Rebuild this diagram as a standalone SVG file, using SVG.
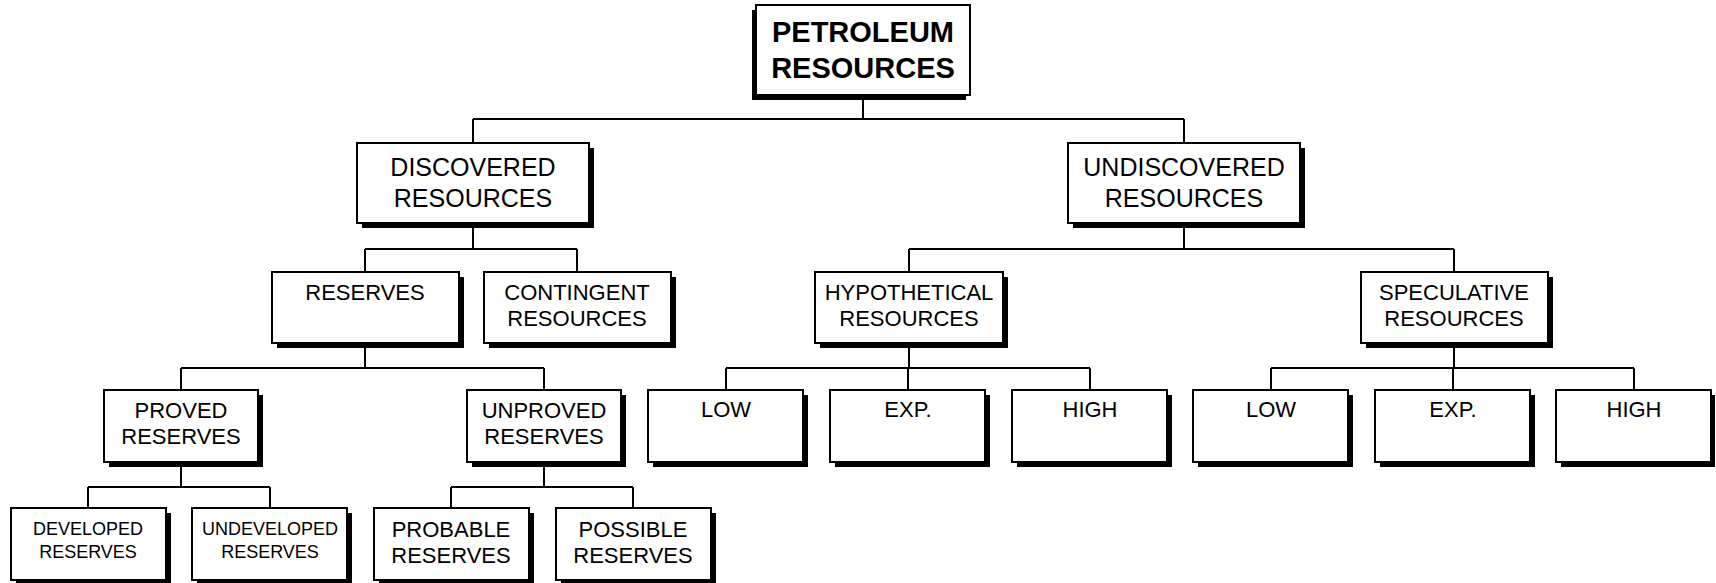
<svg xmlns="http://www.w3.org/2000/svg" width="1716" height="583" viewBox="0 0 1716 583">
<style>
.bg{fill:#fff}
.sh{fill:#000}
.bx{fill:#fff;stroke:#000;stroke-width:2}
.ln{stroke:#000;stroke-width:2;fill:none}
text{font-family:"Liberation Sans",Arial,sans-serif;fill:#000;text-anchor:middle}
.t0{font-size:29px;font-weight:bold}
.t1{font-size:25px}
.t2{font-size:22px}
.t3{font-size:18px}
</style>
<rect class="bg" x="0" y="0" width="1716" height="583"/>
<g id="connectors">
<path class="ln" d="M863 95V119M473 119H1184M473 119V143M1184 119V143"/>
<path class="ln" d="M473 223V249M365 249H577M365 249V272M577 249V272"/>
<path class="ln" d="M1184 223V249M909 249H1454M909 249V272M1454 249V272"/>
<path class="ln" d="M365 343V368M181 368H544M181 368V390M544 368V390"/>
<path class="ln" d="M909 343V368M726 368H1090M726 368V390M908 368V390M1090 368V390"/>
<path class="ln" d="M1454 343V368M1271 368H1634M1271 368V390M1453 368V390M1634 368V390"/>
<path class="ln" d="M181 462V487M88 487H270M88 487V508M270 487V508"/>
<path class="ln" d="M544 462V487M451 487H633M451 487V508M633 487V508"/>
</g>
<g id="petroleum"><rect class="sh" x="752" y="10" width="214" height="90"/><rect class="bx" x="756" y="5" width="214" height="90"/><text class="t0" x="863" y="42">PETROLEUM</text><text class="t0" x="863" y="78">RESOURCES</text></g>
<g id="discovered"><rect class="sh" x="362" y="148" width="232" height="80"/><rect class="bx" x="357" y="143" width="232" height="80"/><text class="t1" x="473" y="176">DISCOVERED</text><text class="t1" x="473" y="207">RESOURCES</text></g>
<g id="undiscovered"><rect class="sh" x="1073" y="148" width="232" height="80"/><rect class="bx" x="1068" y="143" width="232" height="80"/><text class="t1" x="1184" y="176">UNDISCOVERED</text><text class="t1" x="1184" y="207">RESOURCES</text></g>
<g id="reserves"><rect class="sh" x="277" y="277" width="187" height="71"/><rect class="bx" x="272" y="272" width="187" height="71"/><text class="t2" x="365" y="300">RESERVES</text></g>
<g id="contingent"><rect class="sh" x="489" y="277" width="187" height="71"/><rect class="bx" x="484" y="272" width="187" height="71"/><text class="t2" x="577" y="300">CONTINGENT</text><text class="t2" x="577" y="326">RESOURCES</text></g>
<g id="hypothetical"><rect class="sh" x="820" y="277" width="188" height="71"/><rect class="bx" x="815" y="272" width="188" height="71"/><text class="t2" x="909" y="300">HYPOTHETICAL</text><text class="t2" x="909" y="326">RESOURCES</text></g>
<g id="speculative"><rect class="sh" x="1366" y="277" width="187" height="71"/><rect class="bx" x="1361" y="272" width="187" height="71"/><text class="t2" x="1454" y="300">SPECULATIVE</text><text class="t2" x="1454" y="326">RESOURCES</text></g>
<g id="proved"><rect class="sh" x="109" y="395" width="154" height="72"/><rect class="bx" x="104" y="390" width="154" height="72"/><text class="t2" x="181" y="418">PROVED</text><text class="t2" x="181" y="444">RESERVES</text></g>
<g id="unproved"><rect class="sh" x="472" y="395" width="154" height="72"/><rect class="bx" x="467" y="390" width="154" height="72"/><text class="t2" x="544" y="418">UNPROVED</text><text class="t2" x="544" y="444">RESERVES</text></g>
<g id="low1"><rect class="sh" x="653" y="395" width="155" height="72"/><rect class="bx" x="648" y="390" width="155" height="72"/><text class="t2" x="726" y="417">LOW</text></g>
<g id="exp1"><rect class="sh" x="835" y="395" width="155" height="72"/><rect class="bx" x="830" y="390" width="155" height="72"/><text class="t2" x="908" y="417">EXP.</text></g>
<g id="high1"><rect class="sh" x="1017" y="395" width="155" height="72"/><rect class="bx" x="1012" y="390" width="155" height="72"/><text class="t2" x="1090" y="417">HIGH</text></g>
<g id="low2"><rect class="sh" x="1198" y="395" width="155" height="72"/><rect class="bx" x="1193" y="390" width="155" height="72"/><text class="t2" x="1271" y="417">LOW</text></g>
<g id="exp2"><rect class="sh" x="1380" y="395" width="155" height="72"/><rect class="bx" x="1375" y="390" width="155" height="72"/><text class="t2" x="1453" y="417">EXP.</text></g>
<g id="high2"><rect class="sh" x="1561" y="395" width="154" height="72"/><rect class="bx" x="1556" y="390" width="155" height="72"/><text class="t2" x="1634" y="417">HIGH</text></g>
<g id="developed"><rect class="sh" x="16" y="513" width="155" height="72"/><rect class="bx" x="11" y="508" width="155" height="72"/><text class="t3" x="88" y="535">DEVELOPED</text><text class="t3" x="88" y="558">RESERVES</text></g>
<g id="undeveloped"><rect class="sh" x="197" y="513" width="155" height="72"/><rect class="bx" x="192" y="508" width="155" height="72"/><text class="t3" x="270" y="535">UNDEVELOPED</text><text class="t3" x="270" y="558">RESERVES</text></g>
<g id="probable"><rect class="sh" x="379" y="513" width="155" height="72"/><rect class="bx" x="374" y="508" width="155" height="72"/><text class="t2" x="451" y="537">PROBABLE</text><text class="t2" x="451" y="563">RESERVES</text></g>
<g id="possible"><rect class="sh" x="561" y="513" width="155" height="72"/><rect class="bx" x="556" y="508" width="155" height="72"/><text class="t2" x="633" y="537">POSSIBLE</text><text class="t2" x="633" y="563">RESERVES</text></g>
</svg>
